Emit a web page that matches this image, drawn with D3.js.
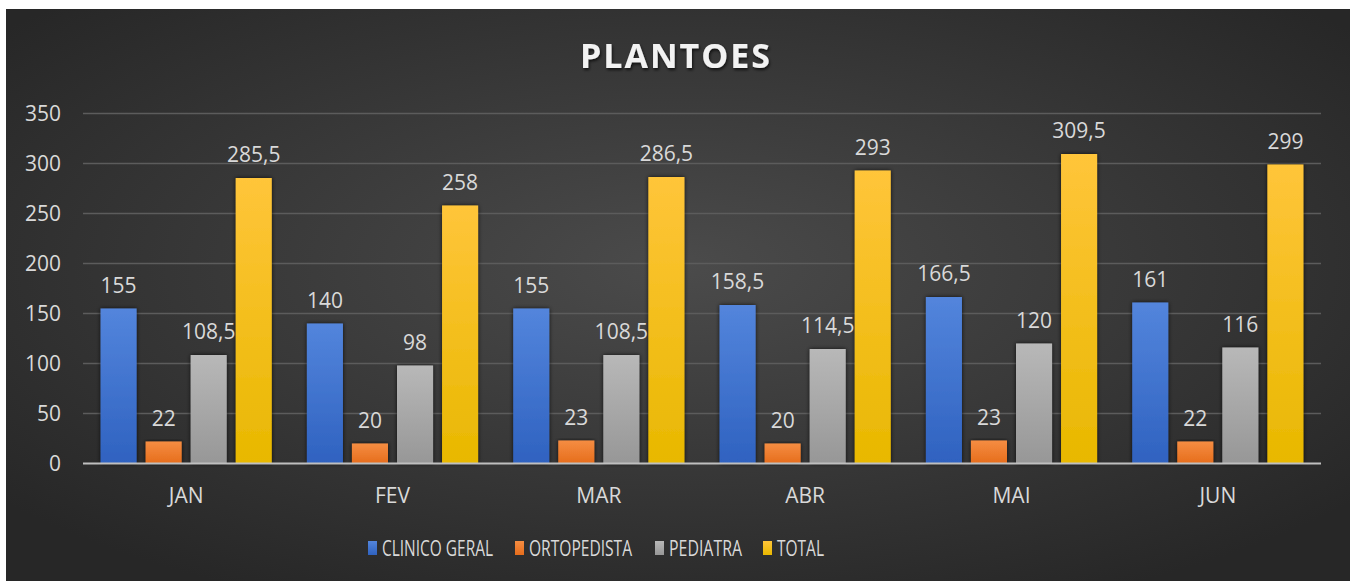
<!DOCTYPE html>
<html><head><meta charset="utf-8">
<script src="https://cdn.jsdelivr.net/npm/d3@7"></script>
<style>html,body{margin:0;padding:0;background:#fff;}svg{display:block;}</style>
</head><body>
<svg id="c" width="1354" height="581"></svg>
<script>
const months = ["JAN","FEV","MAR","ABR","MAI","JUN"];
const seriesNames = ["CLINICO GERAL","ORTOPEDISTA","PEDIATRA","TOTAL"];
const clinicoGeral = [155,140,155,158.5,166.5,161];
const ortopedista = [22,20,23,20,23,22];
const pediatra = [108.5,98,108.5,114.5,120,116];
const total = [285.5,258,286.5,293,309.5,299];
const yTicks = [0,50,100,150,200,250,300,350];
const title = "PLANTOES";

const seriesValues = [clinicoGeral, ortopedista, pediatra, total];
const colors = [["#5385dc","#2f62c0"],["#f58d42","#e66d1c"],["#b8b8b8","#979797"],["#ffc53a","#e8b800"]];

const svg = d3.select("#c");
const defs = svg.append("defs");
const bg = defs.append("radialGradient").attr("id","bg").attr("cx","0.5").attr("cy","0.45").attr("r","0.65");
bg.append("stop").attr("offset","0").attr("stop-color","#4b4b4b");
bg.append("stop").attr("offset","1").attr("stop-color","#272727");
colors.forEach((c,i)=>{
  const g = defs.append("linearGradient").attr("id","g"+i).attr("x1",0).attr("y1",0).attr("x2",0).attr("y2",1);
  g.append("stop").attr("offset","0").attr("stop-color",c[0]);
  g.append("stop").attr("offset","1").attr("stop-color",c[1]);
});
const sh = defs.append("filter").attr("id","sh").attr("x","-30%").attr("y","-10%").attr("width","160%").attr("height","120%");
sh.append("feDropShadow").attr("dx",0).attr("dy",0).attr("stdDeviation",2.2).attr("flood-color","#000").attr("flood-opacity",0.75);
const tsh = defs.append("filter").attr("id","tsh").attr("x","-10%").attr("y","-20%").attr("width","120%").attr("height","160%");
tsh.append("feDropShadow").attr("dx",1).attr("dy",2).attr("stdDeviation",1.5).attr("flood-color","#000").attr("flood-opacity",0.7);

svg.append("rect").attr("x",6).attr("y",9).attr("width",1344).attr("height",572).attr("fill","url(#bg)");

const x0 = d3.scaleBand().domain(months).range([83,1321]).padding(0);
const x1 = d3.scaleBand().domain(d3.range(4)).range([0,x0.bandwidth()]).paddingInner(0.2).paddingOuter(0.39);
const y = d3.scaleLinear().domain([0,350]).range([463.5,113.5]);

// grid
svg.append("g").selectAll("line").data(yTicks.filter(t=>t>0)).join("line")
  .attr("x1",83).attr("x2",1321).attr("y1",d=>y(d)).attr("y2",d=>y(d))
  .attr("stroke","#5c5c5c").attr("stroke-width",1.5);

// y axis labels
const yAxis = d3.axisLeft(y).tickValues(yTicks).tickSize(0).tickPadding(0);
const ya = svg.append("g").attr("transform","translate(61,0)").call(yAxis);
ya.select(".domain").remove();
ya.selectAll("text").attr("fill","#d9d9d9").attr("font-family","Open Sans").attr("font-size",21).attr("dy","0.35em").attr("text-anchor","end");

const fmt = v => String(v).replace(".",",");

// bars
const groups = svg.append("g").selectAll("g").data(months).join("g")
  .attr("transform",d=>`translate(${x0(d)},0)`);
groups.each(function(m,mi){
  const g = d3.select(this);
  seriesValues.forEach((vals,si)=>{
    g.append("rect").attr("x",x1(si)).attr("width",x1.bandwidth())
      .attr("y",y(vals[mi])).attr("height",y(0)-y(vals[mi]))
      .attr("fill","url(#g"+si+")").attr("filter","url(#sh)");
  });
  seriesValues.forEach((vals,si)=>{
    g.append("text").attr("x",x1(si)+x1.bandwidth()/2).attr("y",y(vals[mi])-16)
      .attr("text-anchor","middle").attr("fill","#d9d9d9").attr("font-family","Open Sans").attr("font-size",21)
      .text(fmt(vals[mi]));
  });
});

// x axis
svg.append("line").attr("x1",83).attr("x2",1321).attr("y1",y(0)).attr("y2",y(0)).attr("stroke","#bfbfbf").attr("stroke-width",2);
const xAxis = d3.axisBottom(x0).tickSize(0).tickPadding(0);
const xa = svg.append("g").attr("transform","translate(0,503)").call(xAxis);
xa.select(".domain").remove();
xa.selectAll("text").attr("fill","#d9d9d9").attr("font-family","Open Sans").attr("font-size",21).attr("dy",0);

// title
svg.append("text").attr("x",676).attr("y",68).attr("text-anchor","middle")
  .attr("fill","#f2f2f2").attr("font-family","Open Sans").attr("font-weight","bold").attr("font-size",34)
  .attr("letter-spacing",2).attr("filter","url(#tsh)").text(title);

// legend
const legX = [368,515,655,763];
const legW = [111,103,73,47];
const lg = svg.append("g");
seriesNames.forEach((n,i)=>{
  lg.append("rect").attr("x",legX[i]).attr("y",541).attr("width",9).attr("height",14).attr("fill","url(#g"+i+")");
  lg.append("text").attr("x",legX[i]+14).attr("y",555.5).attr("fill","#d9d9d9").attr("font-family","Open Sans").attr("font-size",22)
    .attr("textLength",legW[i]).attr("lengthAdjust","spacingAndGlyphs").text(n);
});
</script>
</body></html>
